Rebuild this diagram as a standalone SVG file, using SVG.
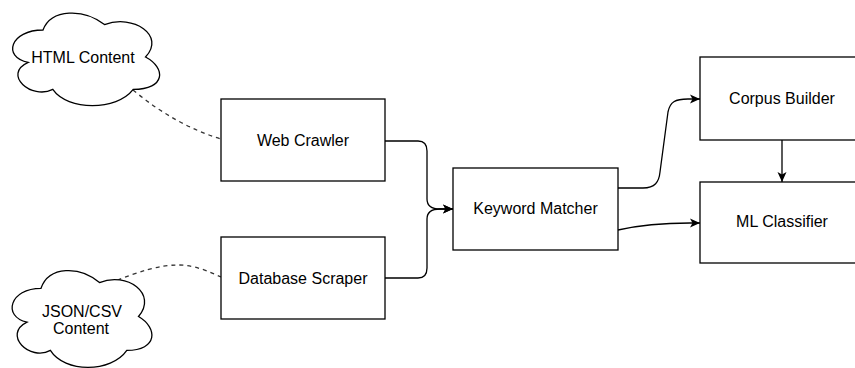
<svg xmlns="http://www.w3.org/2000/svg" width="855" height="368" viewBox="0 0 855 368">
  <style>
    .box { fill: #ffffff; stroke: #000000; stroke-width: 1.3; }
    .cloud { fill: #ffffff; stroke: #000000; stroke-width: 1.3; }
    .label { font-family: "Liberation Sans", Arial, Helvetica, sans-serif; font-size: 16px; fill: #000000; text-anchor: middle; }
    .edge { fill: none; stroke: #000000; stroke-width: 1.3; }
    .link { fill: none; stroke: #333333; stroke-width: 1.3; stroke-dasharray: 4 4; }
  </style>
  <defs>
    <marker id="arrow" viewBox="0 0 10 10" refX="10" refY="5" markerWidth="10" markerHeight="10" markerUnits="userSpaceOnUse" orient="auto">
      <path d="M0,0.5 L10,5 L0,9.5 L2.5,5 Z" fill="#000000"/>
    </marker>
  </defs>
  <rect width="855" height="368" fill="#ffffff"/>

  <!-- connectors -->
  <g id="connectors">
    <path class="link" d="M133,90 Q175,125 221,139"/>
    <path class="link" d="M110,283 C140,271 160,265 178,265 C195,265 210,272 221,277"/>
    <path class="edge" marker-end="url(#arrow)" d="M385,141 L418,141 C424,141 427,144 427,151 L427,199 C427,205 431,209 440,209 L453,209"/>
    <path class="edge" marker-end="url(#arrow)" d="M385,278 L418,278 C424,278 427,275 427,268 L427,219 C427,213 431,209 440,209 L453,209"/>
    <path class="edge" marker-end="url(#arrow)" d="M618,188 L643,188 C655,188 659,182 660,172 L668,112 C670,102 675,99 688,99 L700,99"/>
    <path class="edge" marker-end="url(#arrow)" d="M618,230 C640,225 660,223 690,223 L700,223"/>
    <path class="edge" marker-end="url(#arrow)" d="M782,140 L782,182"/>
  </g>

  <!-- sources -->
  <g id="html-content">
    <path class="cloud" d="M43,30 C10.2,30 2,57 28.2,62.4 C2,74.3 31.5,100.2 52.8,89.4 C67.6,111 116.8,111 133.2,89.4 C166,89.4 166,67.8 145.5,57 C166,35.4 133.2,13.8 104.5,24.6 C84,8.4 51.2,8.4 43,30 Z"/>
    <text class="label" x="83" y="62.5">HTML Content</text>
  </g>
  <g id="json-csv-content">
    <path class="cloud" d="M41,288.3 C9.8,288.3 2,316.5 27,322.2 C2,334.6 30.1,361.7 50.4,350.4 C64.4,373 111.2,373 126.8,350.4 C158,350.4 158,327.8 138.5,316.5 C158,293.9 126.8,271.3 99.5,282.6 C80,265.7 48.8,265.7 41,288.3 Z"/>
    <text class="label" x="82" y="317">JSON/CSV</text>
    <text class="label" x="81" y="334">Content</text>
  </g>

  <!-- pipeline steps -->
  <g id="web-crawler">
    <rect class="box" x="221" y="99" width="164" height="82"/>
    <text class="label" x="303" y="146">Web Crawler</text>
  </g>
  <g id="database-scraper">
    <rect class="box" x="221" y="237" width="164" height="82"/>
    <text class="label" x="303" y="283.5">Database Scraper</text>
  </g>
  <g id="keyword-matcher">
    <rect class="box" x="453" y="168" width="165" height="82"/>
    <text class="label" x="535.5" y="214">Keyword Matcher</text>
  </g>
  <g id="corpus-builder">
    <rect class="box" x="700" y="57" width="164" height="83"/>
    <text class="label" x="782" y="104">Corpus Builder</text>
  </g>
  <g id="ml-classifier">
    <rect class="box" x="700" y="182" width="164" height="81"/>
    <text class="label" x="782" y="227">ML Classifier</text>
  </g>
</svg>
